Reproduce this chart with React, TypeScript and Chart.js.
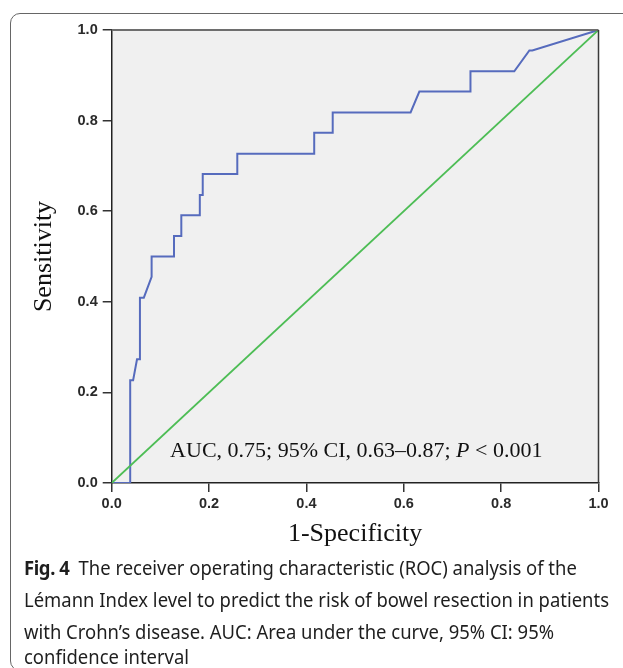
import React, { useEffect, useRef } from 'react';
import { Chart, registerables } from 'chart.js';

Chart.register(...registerables);

// ROC curve points (1 - specificity, sensitivity)
const FPR = [0, 0.038, 0.038, 0.044, 0.052, 0.058, 0.058, 0.066, 0.082, 0.082, 0.128, 0.128, 0.143, 0.143, 0.181, 0.181, 0.187, 0.187, 0.258, 0.258, 0.416, 0.416, 0.454, 0.454, 0.614, 0.632, 0.737, 0.737, 0.827, 0.858, 0.864, 1];
const TPR = [0, 0, 0.227, 0.227, 0.273, 0.273, 0.409, 0.409, 0.455, 0.5, 0.5, 0.545, 0.545, 0.591, 0.591, 0.636, 0.636, 0.682, 0.682, 0.727, 0.727, 0.773, 0.773, 0.818, 0.818, 0.864, 0.864, 0.909, 0.909, 0.955, 0.955, 1];

// Reference (chance) line
const REF_X = [0, 1];
const REF_Y = [0, 1];

const X_TICKS = ['0.0', '0.2', '0.4', '0.6', '0.8', '1.0'];
const Y_TICKS = ['0.0', '0.2', '0.4', '0.6', '0.8', '1.0'];

const X_TITLE = '1-Specificity';
const Y_TITLE = 'Sensitivity';

const AUC_PARTS = [
  { text: 'AUC, 0.75; 95% CI, 0.63\u20130.87; ', italic: false },
  { text: 'P', italic: true },
  { text: ' < 0.001', italic: false },
];
const AUC_POS = { x: 0.12, y: 0.058 };

const CAPTION_LABEL = 'Fig. 4';
const CAPTION_LINES = [
  'The receiver operating characteristic (ROC) analysis of the',
  'L\u00e9mann Index level to predict the risk of bowel resection in patients',
  'with Crohn\u2019s disease. AUC: Area under the curve, 95% CI: 95%',
  'confidence interval',
];

const SERIF = '"Liberation Serif", "Times New Roman", serif';
const SANS = '"Liberation Sans", Arial, sans-serif';
const CAP_FONT_FAMILY = '"Noto Sans", "Open Sans", sans-serif';
const CAP_SIZE = 19;

let measureCtx: CanvasRenderingContext2D | null = null;
function measure(text: string, font: string): number {
  if (!measureCtx) measureCtx = document.createElement('canvas').getContext('2d');
  if (!measureCtx) return text.length * 9;
  measureCtx.font = font;
  return measureCtx.measureText(text).width;
}

const framePlugin = {
  id: 'plotFrame',
  beforeDraw(chart: any) {
    const { ctx, chartArea } = chart;
    const { left, top, right, bottom } = chartArea;
    ctx.save();
    ctx.fillStyle = '#f0f0f0';
    ctx.fillRect(left, top, right - left, bottom - top);
    ctx.restore();
  },
  afterDraw(chart: any) {
    const { ctx, chartArea, scales } = chart;
    const { left, top, right, bottom } = chartArea;
    ctx.save();
    ctx.strokeStyle = '#6e6e6e';
    ctx.lineWidth = 2;
    ctx.beginPath();
    ctx.moveTo(left, top);
    ctx.lineTo(right, top);
    ctx.stroke();
    ctx.strokeStyle = '#3a3a3a';
    ctx.lineWidth = 1.5;
    ctx.beginPath();
    ctx.moveTo(right, top);
    ctx.lineTo(right, bottom);
    ctx.stroke();

    // AUC annotation
    let x = scales.x.getPixelForValue(AUC_POS.x);
    const y = scales.y.getPixelForValue(AUC_POS.y);
    ctx.fillStyle = '#111';
    ctx.textBaseline = 'alphabetic';
    ctx.textAlign = 'left';
    for (const part of AUC_PARTS) {
      ctx.font = `${part.italic ? 'italic ' : ''}22px ${SERIF}`;
      ctx.fillText(part.text, x, y);
      x += ctx.measureText(part.text).width;
    }
    ctx.restore();
  },
};

function RocChart() {
  const ref = useRef<HTMLCanvasElement | null>(null);
  useEffect(() => {
    if (!ref.current) return;
    const tickFont = { family: SANS, size: 14.5, weight: 'bold' as const };
    const chart = new Chart(ref.current, {
      type: 'scatter',
      data: {
        datasets: [
          {
            label: 'Reference',
            data: REF_X.map((x, i) => ({ x, y: REF_Y[i] })),
            borderColor: '#4dbd55',
            borderWidth: 1.8,
            showLine: true,
            pointRadius: 0,
            fill: false,
          },
          {
            label: 'ROC',
            data: FPR.map((x, i) => ({ x, y: TPR[i] })),
            borderColor: '#566bbd',
            borderWidth: 2,
            showLine: true,
            pointRadius: 0,
            fill: false,
          },
        ],
      },
      options: {
        responsive: false,
        animation: false,
        layout: { padding: { left: 12, right: 24.5, top: 30, bottom: 0 } },
        plugins: { legend: { display: false }, tooltip: { enabled: false } },
        scales: {
          x: {
            type: 'linear',
            min: 0,
            max: 1,
            ticks: {
              stepSize: 0.2,
              maxRotation: 0,
              padding: 3,
              color: '#2a2a2a',
              font: tickFont,
              callback: (v: any) => X_TICKS[Math.round(Number(v) / 0.2)] ?? '',
            },
            grid: { display: true, drawOnChartArea: false, drawTicks: true, tickLength: 9, color: '#333', lineWidth: 1.5 },
            border: { display: true, color: '#222', width: 1.5 },
            title: {
              display: true,
              text: X_TITLE,
              color: '#111',
              font: { family: SERIF, size: 26 },
              padding: { top: 0, bottom: 10.4 },
            },
            afterFit: (s: any) => {
              s.height = 77;
            },
          },
          y: {
            type: 'linear',
            min: 0,
            max: 1,
            ticks: {
              stepSize: 0.2,
              padding: 5,
              color: '#2a2a2a',
              font: tickFont,
              callback: (v: any) => Y_TICKS[Math.round(Number(v) / 0.2)] ?? '',
            },
            grid: { display: true, drawOnChartArea: false, drawTicks: true, tickLength: 9, color: '#333', lineWidth: 1.5 },
            border: { display: true, color: '#222', width: 1.5 },
            title: {
              display: true,
              text: Y_TITLE,
              color: '#111',
              font: { family: SERIF, size: 26 },
              padding: { top: 16.4, bottom: 0 },
            },
            afterFit: (s: any) => {
              s.width = 99.7;
            },
          },
        },
      } as any,
      plugins: [framePlugin],
    });
    return () => chart.destroy();
  }, []);
  return <canvas ref={ref} width={623} height={560} style={{ position: 'absolute', left: 0, top: 0, width: 623, height: 560 }} />;
}

function Caption() {
  const normalFont = `${CAP_SIZE}px ${CAP_FONT_FAMILY}`;
  const natural = measure(CAPTION_LINES[1], normalFont);
  const scale = natural > 0 ? 585 / natural : 1;
  const baselines = [576, 608, 640, 665];
  const left = 24;
  const ascentOffset = CAP_SIZE * 0.89;
  return (
    <>
      {CAPTION_LINES.map((line, i) => (
        <div
          key={i}
          style={{
            position: 'absolute',
            left,
            top: baselines[i] - ascentOffset,
            fontFamily: CAP_FONT_FAMILY,
            fontSize: CAP_SIZE,
            lineHeight: `${CAP_SIZE}px`,
            color: '#1e1e1e',
            whiteSpace: 'pre',
            transform: `scaleX(${scale})`,
            transformOrigin: 'left top',
          }}
        >
          {i === 0 ? (
            <>
              <span style={{ fontWeight: 700, letterSpacing: -0.4 }}>{CAPTION_LABEL}</span>
              <span style={{ display: 'inline-block', width: 9 / scale }} />
            </>
          ) : null}
          {line}
        </div>
      ))}
    </>
  );
}

export default function App() {
  return (
    <div style={{ position: 'absolute', left: 0, top: 0, width: 623, height: 668, overflow: 'hidden', background: '#fff' }}>
      <div
        style={{
          position: 'absolute',
          left: 10,
          top: 13,
          width: 700,
          height: 658,
          border: '1.3px solid #666',
          borderRadius: 10,
          boxSizing: 'border-box',
        }}
      />
      <RocChart />
      <Caption />
    </div>
  );
}
